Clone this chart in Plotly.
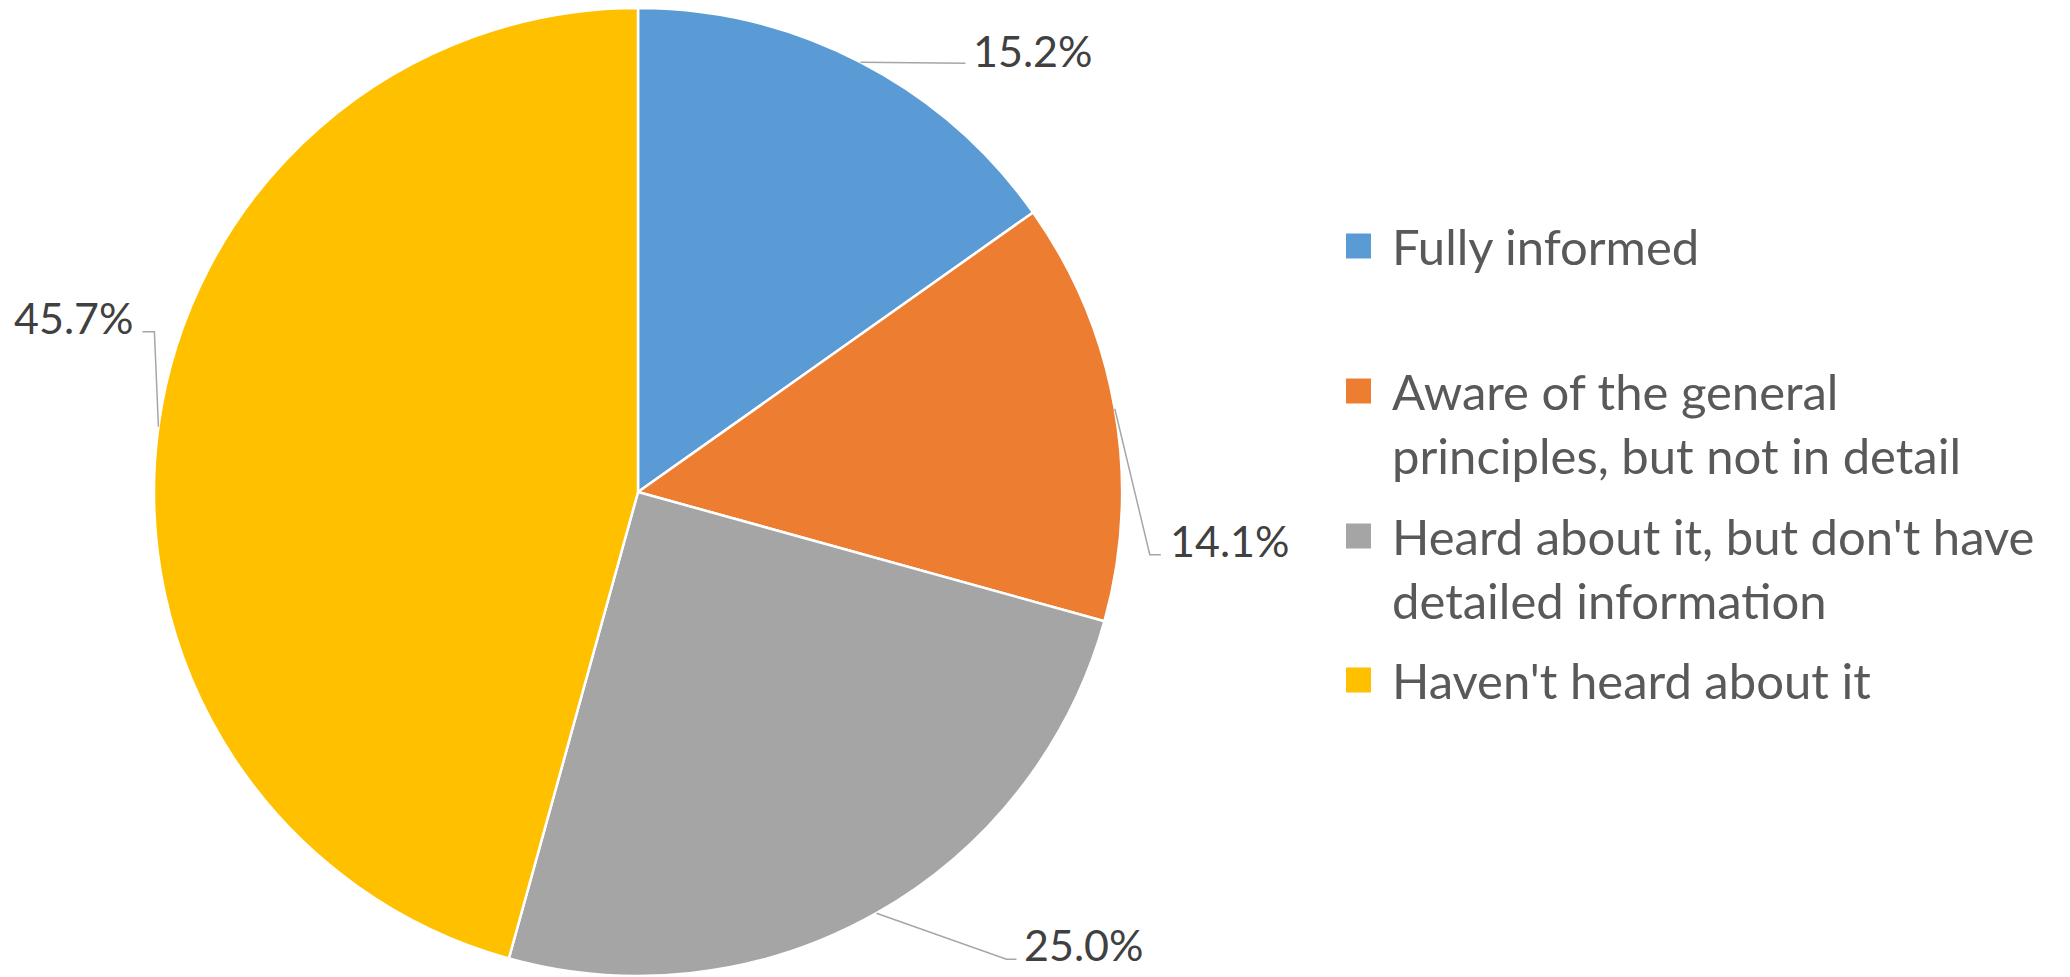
import math
import plotly.graph_objects as go

# ---- data ----
categories = [
    "Fully informed",
    "Aware of the general<br>principles, but not in detail",
    "Heard about it, but don't have<br>detailed information",
    "Haven't heard about it",
]
values = [15.2, 14.1, 25.0, 45.7]
colors = ["#5B9BD5", "#ED7D31", "#A5A5A5", "#FFC000"]

# ---- layout constants (page pixel coordinates; page body has 8px margin) ----
OFF = 8
W, H = 2070 - OFF, 977 - OFF
PIE_CX, PIE_CY, PIE_R = 638, 492, 484
LABEL_FONT = dict(family="Lato, 'Open Sans', sans-serif", size=43, color="#404040")
LEGEND_FONT = dict(family="Lato, 'Open Sans', sans-serif", size=49, color="#595959")
LEADER_COLOR = "#A6A6A6"

# per-slice label placement (pixel offsets from slice edge midpoint)
label_offsets = [(111, -12, "left"), (53, 132, "left"), (146, 31, "left"), (-23, -109, "right")]
leader_offsets = [
    [(105, 1)],
    [(35, 146), (46, 146)],
    [(130, 46), (140, 46)],
    [(-4, -95), (-16, -95)],
]
legend_first_y = [246, 391, 536, 680]
legend_line_gap = 64
legend_square_x = 1346
legend_square_size = 25
legend_text_x = 1390


def px(x):
    return (x - OFF) / W


def py(y):
    return 1 - (y - OFF) / H


DOM_X = [px(PIE_CX - PIE_R), px(PIE_CX + PIE_R)]
DOM_Y = [max(0.0, py(PIE_CY + PIE_R)), min(1.0, py(PIE_CY - PIE_R))]

fig = go.Figure(
    go.Pie(
        labels=categories,
        values=values,
        sort=False,
        direction="clockwise",
        rotation=0,
        marker=dict(colors=colors, line=dict(color="white", width=2.5)),
        textinfo="none",
        hoverinfo="label+percent",
        showlegend=False,
        domain=dict(x=DOM_X, y=DOM_Y),
    )
)

# pie geometry in page pixels (derived from domain)
cx = OFF + (DOM_X[0] + DOM_X[1]) / 2 * W
cy = OFF + (1 - (DOM_Y[0] + DOM_Y[1]) / 2) * H
R = min((DOM_X[1] - DOM_X[0]) * W, (DOM_Y[1] - DOM_Y[0]) * H) / 2

total = sum(values)
annotations = []
shapes = []
cum = 0.0
for i, v in enumerate(values):
    mid = (cum + v / 2) / total * 2 * math.pi
    cum += v
    ex = cx + R * math.sin(mid)
    ey = cy - R * math.cos(mid)
    pts = [(ex, ey)] + [(ex + dx, ey + dy) for dx, dy in leader_offsets[i]]
    path = "M " + " L ".join(f"{px(x):.5f},{py(y):.5f}" for x, y in pts)
    shapes.append(dict(type="path", xref="paper", yref="paper", path=path,
                       line=dict(color=LEADER_COLOR, width=1.5)))
    dx, dy, anchor = label_offsets[i]
    annotations.append(dict(
        x=px(ex + dx), y=py(ey + dy), xref="paper", yref="paper",
        text=f"{v / total * 100:.1f}%", showarrow=False,
        xanchor=anchor, yanchor="middle", font=LABEL_FONT,
    ))

# legend (drawn manually to match spacing)
for i, lab in enumerate(categories):
    y0 = legend_first_y[i]
    shapes.append(dict(
        type="rect", xref="paper", yref="paper",
        x0=px(legend_square_x), x1=px(legend_square_x + legend_square_size),
        y0=py(y0 - legend_square_size / 2), y1=py(y0 + legend_square_size / 2),
        fillcolor=colors[i], line=dict(width=0),
    ))
    for k, line in enumerate(lab.split("<br>")):
        annotations.append(dict(
            x=px(legend_text_x), y=py(y0 + k * legend_line_gap), xref="paper", yref="paper",
            text=line, showarrow=False, xanchor="left", yanchor="middle",
            font=LEGEND_FONT,
        ))

fig.update_layout(
    width=W, height=H,
    margin=dict(l=0, r=0, t=0, b=0),
    paper_bgcolor="white", plot_bgcolor="white",
    annotations=annotations, shapes=shapes,
)

fig.write_html("out.html")
